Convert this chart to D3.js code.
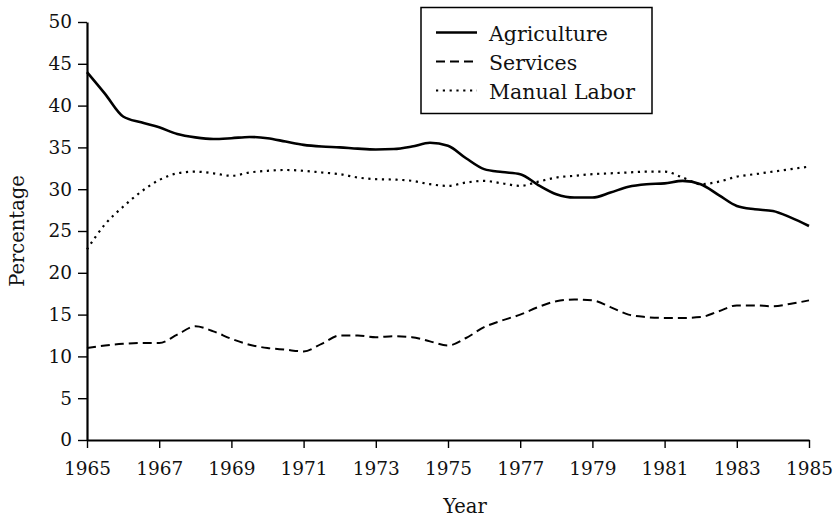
<!DOCTYPE html>
<html>
<head>
<meta charset="utf-8">
<script src="https://cdn.jsdelivr.net/npm/d3@7"></script>
<style>
  body { margin: 0; background: #fff; }
  svg { display: block; font-family: 'DejaVu Serif', serif; }
</style>
</head>
<body>
<svg width="836" height="518"></svg>
<script>
// half-year sample points
const years = d3.range(0, 41).map((i) => 1965 + i * 0.5);

const agriculture = [
  44.0, 41.4, 38.7, 38.0, 37.4, 36.6, 36.2, 36.0, 36.1, 36.25,
  36.1, 35.7, 35.3, 35.1, 35.0, 34.85, 34.75, 34.8, 35.1, 35.55,
  35.2, 33.7, 32.4, 32.05, 31.8, 30.5, 29.4, 29.0, 29.0, 29.6,
  30.3, 30.6, 30.7, 31.0, 30.6, 29.3, 28.0, 27.6, 27.4, 26.6, 25.6,
];
const services = [
  11.0, 11.3, 11.5, 11.6, 11.6, 12.6, 13.6, 13.0, 12.1, 11.4,
  11.0, 10.8, 10.6, 11.5, 12.5, 12.5, 12.3, 12.4, 12.3, 11.8,
  11.3, 12.2, 13.5, 14.3, 15.0, 15.9, 16.6, 16.8, 16.7, 15.9,
  15.0, 14.7, 14.6, 14.6, 14.7, 15.4, 16.1, 16.1, 16.0, 16.3, 16.7,
];
const manualLabor = [
  22.8, 25.8, 27.9, 29.7, 31.1, 31.9, 32.1, 31.9, 31.6, 32.0,
  32.2, 32.3, 32.2, 32.0, 31.8, 31.4, 31.2, 31.15, 31.0, 30.6,
  30.4, 30.8, 31.0, 30.7, 30.4, 30.9, 31.4, 31.6, 31.8, 31.9,
  32.0, 32.1, 32.1, 31.4, 30.6, 30.9, 31.5, 31.8, 32.1, 32.4, 32.7,
];

const seriesNames = ['Agriculture', 'Services', 'Manual Labor'];
const xTicks = d3.range(1965, 1986, 2);
const yTicks = d3.range(0, 51, 5);

const svg = d3.select('svg');
const width = +svg.attr('width');
const height = +svg.attr('height');
const margin = { left: 87, right: 27, top: 22, bottom: 78 };
const innerWidth = width - margin.left - margin.right;
const innerHeight = height - margin.top - margin.bottom;

const styles = {
  Agriculture: { width: 2.6, dash: null },
  Services: { width: 2, dash: '9,5' },
  'Manual Labor': { width: 2.2, dash: '2.2,4.6' },
};

const series = [
  { name: 'Agriculture', values: agriculture },
  { name: 'Services', values: services },
  { name: 'Manual Labor', values: manualLabor },
];

const xScale = d3.scaleLinear().domain([1965, 1985]).range([0, innerWidth]);
const yScale = d3.scaleLinear().domain([0, 50]).range([innerHeight, 0]);

const g = svg.append('g').attr('transform', `translate(${margin.left}, ${margin.top})`);

// axes
const yAxis = d3.axisLeft(yScale).tickValues(yTicks).tickSize(9).tickSizeOuter(0).tickPadding(6);
const xAxis = d3.axisBottom(xScale).tickValues(xTicks).tickFormat(d3.format('d'))
  .tickSize(8).tickSizeOuter(0).tickPadding(14);

const yG = g.append('g').call(yAxis);
const xG = g.append('g').attr('transform', `translate(0, ${innerHeight})`).call(xAxis);

[yG, xG].forEach((a) => {
  a.attr('font-family', null).attr('font-size', null);
  a.select('.domain').attr('stroke', '#000').attr('stroke-width', 2.2);
  a.selectAll('.tick line').attr('stroke', '#000').attr('stroke-width', 1.4);
  a.selectAll('.tick text')
    .attr('fill', '#111')
    .style('font-size', '18.5px');
});

// axis titles
svg.append('text')
  .attr('x', 465)
  .attr('y', 513)
  .attr('text-anchor', 'middle')
  .style('font-size', '19.5px')
  .attr('fill', '#111')
  .text('Year');

svg.append('text')
  .attr('transform', 'translate(24, 231) rotate(-90)')
  .attr('text-anchor', 'middle')
  .style('font-size', '19.5px')
  .attr('fill', '#111')
  .text('Percentage');

// lines
const line = d3.line()
  .x((d, i) => xScale(years[i]))
  .y((d) => yScale(d))
  .curve(d3.curveMonotoneX);

g.selectAll('path.series')
  .data(series)
  .enter()
  .append('path')
  .attr('class', 'series')
  .attr('fill', 'none')
  .attr('stroke', '#000')
  .attr('stroke-width', (d) => styles[d.name].width)
  .attr('stroke-dasharray', (d) => styles[d.name].dash)
  .attr('d', (d) => line(d.values));

// legend
const legend = svg.append('g').attr('transform', 'translate(421, 7.5)');
legend.append('rect')
  .attr('width', 231)
  .attr('height', 106)
  .attr('fill', '#fff')
  .attr('stroke', '#000')
  .attr('stroke-width', 1.5);

const rows = legend.selectAll('g.row')
  .data(seriesNames)
  .enter()
  .append('g')
  .attr('class', 'row')
  .attr('transform', (d, i) => `translate(0, ${25 + i * 29})`);

rows.append('line')
  .attr('x1', 15)
  .attr('x2', 56)
  .attr('stroke', '#000')
  .attr('stroke-width', (d) => styles[d].width)
  .attr('stroke-dasharray', (d) => styles[d].dash);

rows.append('text')
  .attr('x', 68)
  .attr('y', 8)
  .style('font-size', '20.5px')
  .attr('fill', '#111')
  .text((d) => d);
</script>
</body>
</html>
